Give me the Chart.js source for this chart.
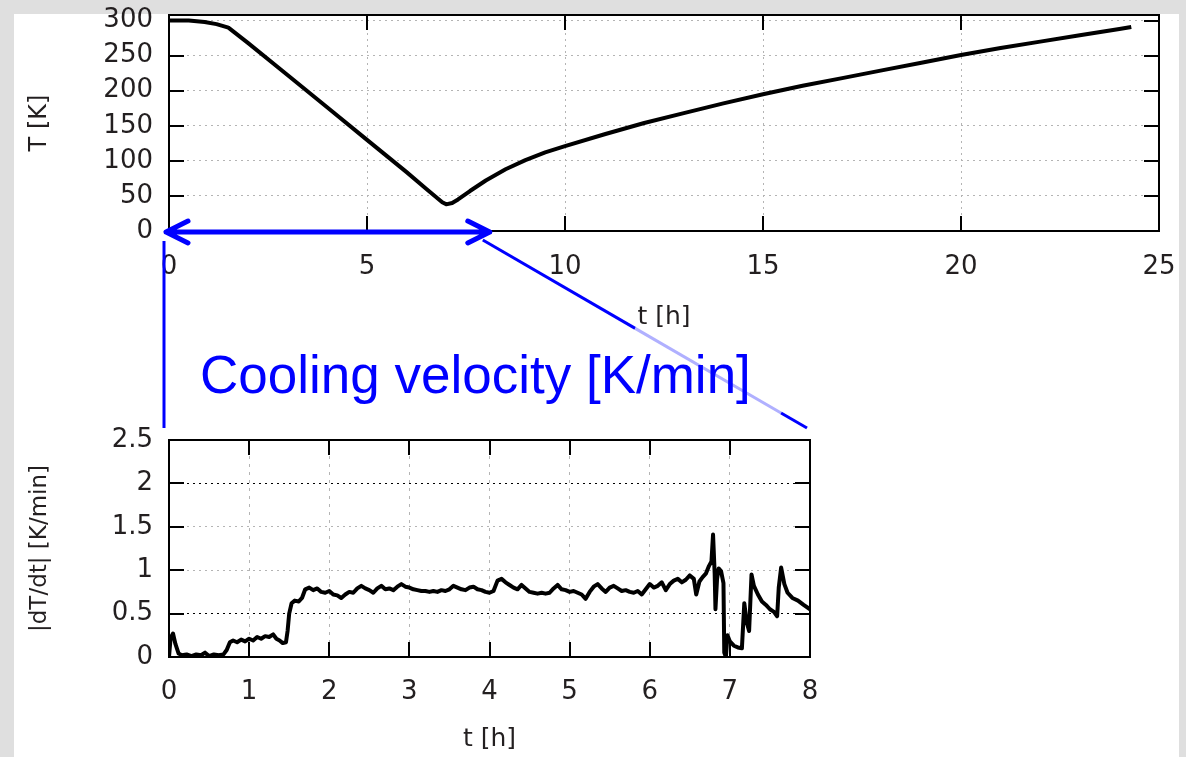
<!DOCTYPE html>
<html>
<head>
<meta charset="utf-8">
<script src="https://cdn.jsdelivr.net/npm/chart.js@4.4.1/dist/chart.umd.min.js"></script>
<style>
  html, body { margin: 0; padding: 0; }
  body {
    width: 1186px; height: 757px; overflow: hidden; position: relative;
    background: #dfdfdf;
  }
  #panel { position: absolute; left: 14px; top: 14px; width: 1165px; height: 760px; background: #fff; }
  canvas { position: absolute; left: 0; }
  #tempChart { top: 0; }
  #rateChart { top: 400px; }
  #overlay { top: 0; }
  #note {
    position: absolute; left: 200px; top: 348px;
    font-family: "Liberation Sans", Arial, sans-serif; font-size: 53px; line-height: 53px;
    color: #0000ff; white-space: nowrap;
  }
</style>
</head>
<body>
<div id="panel"></div>
<canvas id="tempChart" width="1186" height="440"></canvas>
<canvas id="rateChart" width="1186" height="357"></canvas>
<canvas id="overlay" width="1186" height="757"></canvas>
<div id="note">Cooling velocity [K/min]</div>

<script>
// temperature history, t [h] -> T [K]
const tempTime = [0, 0.5, 0.9, 1.2, 1.5, 2, 3, 4, 5, 6, 6.5, 6.9, 7.0, 7.15, 7.3, 7.6, 8, 8.5, 9, 9.5, 10, 11, 12, 13, 14, 15, 16, 17, 18, 19, 20, 21, 22, 23, 24, 24.3];
const tempValues = [300, 300, 298, 295, 290, 268, 222, 176, 130, 84, 60, 41, 38, 40, 45, 57, 72, 88, 101, 112, 121, 138, 154, 168, 182, 195, 207, 218, 229, 240, 251, 261, 270, 279, 288, 291];
const tempXTicks = [0, 5, 10, 15, 20, 25];
const tempYTicks = [0, 50, 100, 150, 200, 250, 300];

// cooling velocity |dT/dt| [K/min] over the first 8 h
const rateTime = [
  0.00, 0.02, 0.05, 0.08, 0.12, 0.16, 0.22, 0.28, 0.34, 0.40, 0.45, 0.50, 0.56, 0.62, 0.68, 0.72, 0.76, 0.80, 0.85, 0.90,
  0.95, 1.00, 1.05, 1.10, 1.15, 1.20, 1.25, 1.30, 1.34, 1.38, 1.42, 1.46, 1.48, 1.50, 1.53, 1.57, 1.62, 1.66, 1.70, 1.75,
  1.80, 1.85, 1.90, 1.95, 2.00, 2.05, 2.10, 2.15, 2.20, 2.25, 2.30, 2.35, 2.40, 2.45, 2.50, 2.55, 2.60, 2.65, 2.70, 2.75,
  2.80, 2.85, 2.90, 2.95, 3.00, 3.05, 3.10, 3.15, 3.20, 3.25, 3.30, 3.35, 3.40, 3.45, 3.50, 3.55, 3.60, 3.65, 3.70, 3.75,
  3.80, 3.85, 3.90, 3.95, 4.00, 4.05, 4.10, 4.15, 4.20, 4.25, 4.30, 4.35, 4.40, 4.45, 4.50, 4.55, 4.60, 4.65, 4.70, 4.75,
  4.80, 4.85, 4.90, 4.95, 5.00, 5.05, 5.10, 5.15, 5.20, 5.25, 5.30, 5.35, 5.40, 5.45, 5.50, 5.55, 5.60, 5.65, 5.70, 5.75,
  5.80, 5.85, 5.90, 5.95, 6.00, 6.05, 6.10, 6.15, 6.20, 6.25, 6.30, 6.35, 6.40, 6.45, 6.50, 6.55, 6.58, 6.62, 6.66, 6.70,
  6.74, 6.77, 6.79, 6.81, 6.82, 6.84, 6.86, 6.89, 6.92, 6.93, 6.95, 6.97, 7.00, 7.05, 7.10, 7.15, 7.18, 7.21, 7.24, 7.27,
  7.30, 7.35, 7.40, 7.45, 7.50, 7.55, 7.59, 7.61, 7.64, 7.68, 7.72, 7.78, 7.85, 7.92, 8.00
];
const rateValues = [
  0.00, 0.22, 0.27, 0.15, 0.04, 0.02, 0.03, 0.01, 0.03, 0.02, 0.05, 0.01, 0.03, 0.02, 0.03, 0.08, 0.17, 0.19, 0.17, 0.20,
  0.18, 0.21, 0.19, 0.23, 0.21, 0.24, 0.23, 0.26, 0.21, 0.19, 0.16, 0.17, 0.30, 0.50, 0.62, 0.65, 0.64, 0.68, 0.78, 0.80,
  0.77, 0.79, 0.75, 0.74, 0.76, 0.72, 0.71, 0.68, 0.72, 0.75, 0.74, 0.79, 0.82, 0.79, 0.77, 0.74, 0.79, 0.82, 0.78, 0.79,
  0.77, 0.81, 0.84, 0.81, 0.80, 0.78, 0.77, 0.76, 0.76, 0.75, 0.76, 0.75, 0.77, 0.76, 0.78, 0.82, 0.80, 0.78, 0.77, 0.80,
  0.81, 0.78, 0.77, 0.75, 0.74, 0.76, 0.88, 0.90, 0.86, 0.83, 0.80, 0.78, 0.83, 0.79, 0.75, 0.74, 0.73, 0.74, 0.73, 0.74,
  0.79, 0.83, 0.78, 0.77, 0.75, 0.76, 0.74, 0.72, 0.67, 0.75, 0.81, 0.84, 0.79, 0.75, 0.80, 0.82, 0.79, 0.76, 0.77, 0.75,
  0.74, 0.76, 0.72, 0.78, 0.84, 0.80, 0.82, 0.86, 0.77, 0.84, 0.88, 0.90, 0.86, 0.89, 0.94, 0.90, 0.72, 0.87, 0.92, 0.96,
  1.05, 1.10, 1.41, 0.97, 0.55, 0.90, 1.02, 0.99, 0.85, 0.05, 0.00, 0.25, 0.18, 0.13, 0.11, 0.10, 0.62, 0.40, 0.30, 0.95,
  0.82, 0.72, 0.64, 0.60, 0.55, 0.52, 0.47, 0.80, 1.03, 0.84, 0.74, 0.68, 0.65, 0.60, 0.55
];
const rateXTicks = [0, 1, 2, 3, 4, 5, 6, 7, 8];
const rateYTicks = [0, 0.5, 1, 1.5, 2, 2.5];

const inkColor = "#231f20";
const noteBlue = "#0000ff";
const fontFamily = "'DejaVu Sans', sans-serif";
const tickFont = { family: fontFamily, size: 26 };

// gnuplot-like frame with inward ticks on all four sides
const gnuFrame = {
  id: "gnuFrame",
  afterDatasetsDraw(chart) {
    const { ctx, chartArea: a, scales } = chart;
    const L = 15;
    ctx.save();
    ctx.strokeStyle = "#000";
    ctx.lineWidth = 2;
    ctx.beginPath();
    scales.x.ticks.forEach((t) => {
      const px = Math.round(scales.x.getPixelForValue(t.value));
      ctx.moveTo(px, a.bottom); ctx.lineTo(px, a.bottom - L);
      ctx.moveTo(px, a.top); ctx.lineTo(px, a.top + L);
    });
    scales.y.ticks.forEach((t) => {
      const py = Math.round(scales.y.getPixelForValue(t.value));
      ctx.moveTo(a.left, py); ctx.lineTo(a.left + L, py);
      ctx.moveTo(a.right, py); ctx.lineTo(a.right - L, py);
    });
    ctx.stroke();
    ctx.strokeRect(a.left, a.top, a.right - a.left, a.bottom - a.top);
    ctx.restore();
  },
};

function toPoints(xs, ys) {
  return xs.map((x, i) => ({ x: x, y: ys[i] }));
}

function setTicks(list) {
  return (scale) => { scale.ticks = list.map((v) => ({ value: v })); };
}

// fixed axis boxes, no extra room for overhanging labels
function fitX(h) {
  return (s) => { s.height = h; s.paddingLeft = 0; s.paddingRight = 0; };
}
function fitY(w) {
  return (s) => { s.width = w; s.paddingTop = 0; s.paddingBottom = 0; };
}

const tempChart = new Chart(document.getElementById("tempChart"), {
  type: "line",
  data: {
    datasets: [{
      data: toPoints(tempTime, tempValues),
      borderColor: "#000",
      borderWidth: 4,
      pointRadius: 0,
      tension: 0,
      borderJoinStyle: "round",
    }],
  },
  options: {
    responsive: false,
    animation: false,
    devicePixelRatio: 1,
    layout: { padding: { left: 0, right: 27, top: 15, bottom: 0 } },
    plugins: { legend: { display: false }, tooltip: { enabled: false } },
    scales: {
      x: {
        type: "linear", min: 0, max: 25,
        afterBuildTicks: setTicks(tempXTicks),
        afterFit: fitX(209),
        grid: { color: "#b4b4b4", lineWidth: 1, drawTicks: false },
        border: { display: false, dash: [2, 4] },
        ticks: { color: inkColor, font: tickFont, padding: 21, maxRotation: 0, autoSkip: false, callback: (v) => String(v) },
        title: { display: true, text: "t [h]", color: inkColor, font: { family: fontFamily, size: 25 }, padding: { top: 0, bottom: 108 } },
      },
      y: {
        type: "linear", min: 0, max: 308,
        afterBuildTicks: setTicks(tempYTicks),
        afterFit: fitY(169),
        grid: { color: "#b4b4b4", lineWidth: 1, drawTicks: false },
        border: { display: false, dash: [2, 4] },
        ticks: { color: inkColor, font: tickFont, padding: 16, autoSkip: false, callback: (v) => String(v) },
        title: { display: true, text: "T [K]", color: inkColor, font: { family: fontFamily, size: 24 }, padding: { top: 25, bottom: 0 } },
      },
    },
  },
  plugins: [gnuFrame],
});

const rateChart = new Chart(document.getElementById("rateChart"), {
  type: "line",
  data: {
    datasets: [{
      data: toPoints(rateTime, rateValues),
      borderColor: "#000",
      borderWidth: 4,
      pointRadius: 0,
      tension: 0,
      borderJoinStyle: "round",
    }],
  },
  options: {
    responsive: false,
    animation: false,
    devicePixelRatio: 1,
    layout: { padding: { left: 0, right: 376, top: 40, bottom: 0 } },
    plugins: { legend: { display: false }, tooltip: { enabled: false } },
    scales: {
      x: {
        type: "linear", min: 0, max: 8,
        afterBuildTicks: setTicks(rateXTicks),
        afterFit: fitX(100),
        grid: { color: "#b4b4b4", lineWidth: 1, drawTicks: false },
        border: { display: false, dash: [3, 5] },
        ticks: { color: inkColor, font: tickFont, padding: 20, maxRotation: 0, autoSkip: false, callback: (v) => String(v) },
        title: { display: true, text: "t [h]", color: inkColor, font: { family: fontFamily, size: 25 }, padding: { top: 0, bottom: 3 } },
      },
      y: {
        type: "linear", min: 0, max: 2.5,
        afterBuildTicks: setTicks(rateYTicks),
        afterFit: fitY(169),
        grid: {
          color: (c) => (c.tick && (c.tick.value === 2 || c.tick.value === 0.5)) ? "#000" : "#b4b4b4",
          lineWidth: 1, drawTicks: false,
        },
        border: { display: false, dash: [2, 4] },
        ticks: { color: inkColor, font: tickFont, padding: 16, autoSkip: false, callback: (v) => String(v) },
        title: { display: true, text: "|dT/dt| [K/min]", color: inkColor, font: { family: fontFamily, size: 23 }, padding: { top: 26, bottom: 0 } },
      },
    },
  },
  plugins: [gnuFrame],
});

// blue annotation: arrow over the zoomed range and the two connecting lines
function drawNotes() {
  const c = document.getElementById("overlay").getContext("2d");
  const tx = tempChart.scales.x;
  const ty = tempChart.scales.y;
  const ra = rateChart.chartArea;
  const rateTop = 400 + ra.top;
  const y0 = ty.getPixelForValue(0) + 1;
  const xL = tx.getPixelForValue(rateXTicks[0]) - 3;
  const xR = tx.getPixelForValue(rateXTicks[rateXTicks.length - 1]) + 4;

  c.strokeStyle = noteBlue;
  c.lineWidth = 5;
  c.lineCap = "round";
  c.lineJoin = "round";
  c.beginPath();
  c.moveTo(xL, y0); c.lineTo(xR, y0);
  c.moveTo(xL + 22, y0 - 11); c.lineTo(xL, y0); c.lineTo(xL + 22, y0 + 11);
  c.moveTo(xR - 22, y0 - 11); c.lineTo(xR, y0); c.lineTo(xR - 22, y0 + 11);
  c.stroke();

  c.lineCap = "butt";
  c.lineWidth = 3;
  c.beginPath();
  c.moveTo(xL - 2, y0 + 9); c.lineTo(xL - 2, rateTop - 12);
  c.stroke();

  const x1 = xR - 7, y1 = y0 + 8;
  const x2 = ra.right - 3, y2 = rateTop - 12;
  const at = (f) => [x1 + (x2 - x1) * f, y1 + (y2 - y1) * f];
  const seg = (f0, f1, col) => {
    const p0 = at(f0), p1 = at(f1);
    c.strokeStyle = col;
    c.beginPath(); c.moveTo(p0[0], p0[1]); c.lineTo(p1[0], p1[1]); c.stroke();
  };
  seg(0, 0.47, noteBlue);
  seg(0.47, 0.92, "#b0b0ff");
  seg(0.92, 1, noteBlue);
}

drawNotes();
</script>
</body>
</html>
